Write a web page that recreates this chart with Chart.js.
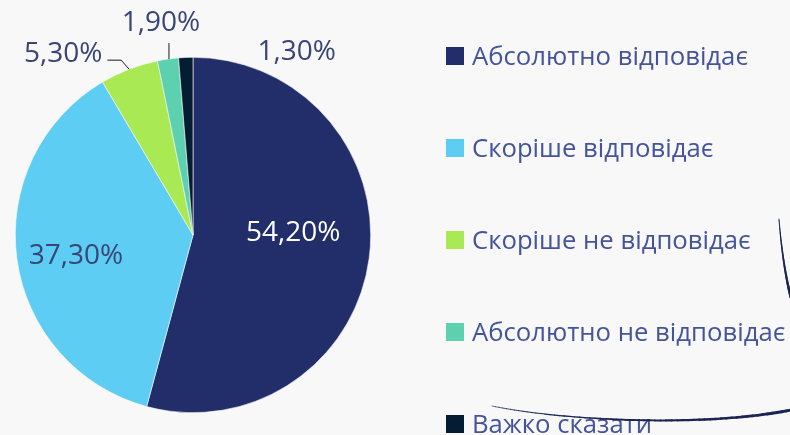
<!DOCTYPE html>
<html>
<head>
<meta charset="utf-8">
<script src="https://cdn.jsdelivr.net/npm/chart.js@4.4.1/dist/chart.umd.min.js"></script>
<style>
  html, body { margin: 0; padding: 0; background: #f8f8f8; }
  #wrap { width: 790px; height: 435px; }
</style>
</head>
<body>
<div id="wrap"><canvas id="myChart" width="790" height="435"></canvas></div>
<script>
// дані
const categories = ['Абсолютно відповідає', 'Скоріше відповідає', 'Скоріше не відповідає', 'Абсолютно не відповідає', 'Важко сказати'];
const values = [54.2, 37.3, 5.3, 1.9, 1.3];
const valueLabels = ['54,20%', '37,30%', '5,30%', '1,90%', '1,30%'];
const colors = ['#222e6a', '#5ecdf3', '#a9e954', '#5dd0b0', '#051d33'];

// зсув підпису від середини зовнішнього краю сектора
const labelShift = [[-76, -27], [59, -5], [-66, -17], [-7, -38], [111, -7]];
const labelColors = ['#ffffff', '#3a4577', '#3a4577', '#3a4577', '#3a4577'];

// підписи значень + лінії-виноски
const sliceLabels = {
    id: 'sliceLabels',
    afterDatasetsDraw(chart) {
        var ctx = chart.ctx;
        var meta = chart.getDatasetMeta(0);
        ctx.save();
        ctx.font = '28px "Open Sans"';
        ctx.textAlign = 'center';
        ctx.textBaseline = 'alphabetic';
        meta.data.forEach(function (arc, i) {
            var p = arc.getProps(['x', 'y', 'startAngle', 'endAngle', 'outerRadius'], true);
            var mid = (p.startAngle + p.endAngle) / 2;
            var ex = p.x + Math.cos(mid) * p.outerRadius;
            var ey = p.y + Math.sin(mid) * p.outerRadius;
            var lx = ex + labelShift[i][0];
            var ly = ey + labelShift[i][1];
            ctx.fillStyle = labelColors[i];
            ctx.fillText(valueLabels[i], lx, ly + 10);

            ctx.strokeStyle = '#1a1a1a';
            ctx.lineWidth = 1;
            if (i === 2) {
                var w = ctx.measureText(valueLabels[i]).width;
                ctx.beginPath();
                ctx.moveTo(ex, ey);
                ctx.lineTo(ex - 8, ly + 8);
                ctx.lineTo(lx + w / 2 + 5, ly + 8);
                ctx.stroke();
            }
            if (i === 3) {
                ctx.beginPath();
                ctx.moveTo(ex + 1, ey);
                ctx.lineTo(ex + 1, ly + 22);
                ctx.stroke();
            }
        });
        ctx.restore();
    }
};

// легенда праворуч + декоративні дуги
function taperedCurve(ctx, pts, w0, w1) {
    var n = 60;
    var prev = null;
    for (var k = 0; k <= n; k++) {
        var t = k / n, u = 1 - t;
        var x = u*u*u*pts[0][0] + 3*u*u*t*pts[1][0] + 3*u*t*t*pts[2][0] + t*t*t*pts[3][0];
        var y = u*u*u*pts[0][1] + 3*u*u*t*pts[1][1] + 3*u*t*t*pts[2][1] + t*t*t*pts[3][1];
        if (prev) {
            ctx.lineWidth = w0 + (w1 - w0) * t;
            ctx.beginPath();
            ctx.moveTo(prev[0], prev[1]);
            ctx.lineTo(x, y);
            ctx.stroke();
        }
        prev = [x, y];
    }
}

const sideLegend = {
    id: 'sideLegend',
    afterDraw(chart) {
        var ctx = chart.ctx;
        var ds = chart.data.datasets[0];
        ctx.save();
        ctx.font = '25.7px "Open Sans"';
        ctx.textAlign = 'left';
        ctx.textBaseline = 'alphabetic';
        chart.data.labels.forEach(function (lab, i) {
            var cy = 56 + i * 92;
            ctx.fillStyle = ds.backgroundColor[i];
            ctx.fillRect(446, cy - 9, 18, 18);
            ctx.fillStyle = '#44539a';
            ctx.fillText(lab, 472, cy + 9);
        });

        ctx.strokeStyle = '#1d2552';
        ctx.lineCap = 'round';
        taperedCurve(ctx, [[779, 219], [781, 245], [785, 275], [791, 298]], 0.8, 2.6);
        taperedCurve(ctx, [[492, 406], [560, 420], [700, 428], [791, 410]], 0.6, 3);
        ctx.restore();
    }
};

var ctx = document.getElementById('myChart').getContext('2d');
new Chart(ctx, {
    type: 'pie',
    data: {
        labels: categories,
        datasets: [{
            data: values,
            backgroundColor: colors,
            borderColor: '#f8f8f8',
            borderWidth: 0.6
        }]
    },
    options: {
        responsive: false,
        animation: false,
        layout: {
            padding: { left: 15, right: 419, top: 57, bottom: 22 }
        },
        plugins: {
            legend: { display: false },
            tooltip: { enabled: false }
        }
    },
    plugins: [sliceLabels, sideLegend]
});
</script>
</body>
</html>
